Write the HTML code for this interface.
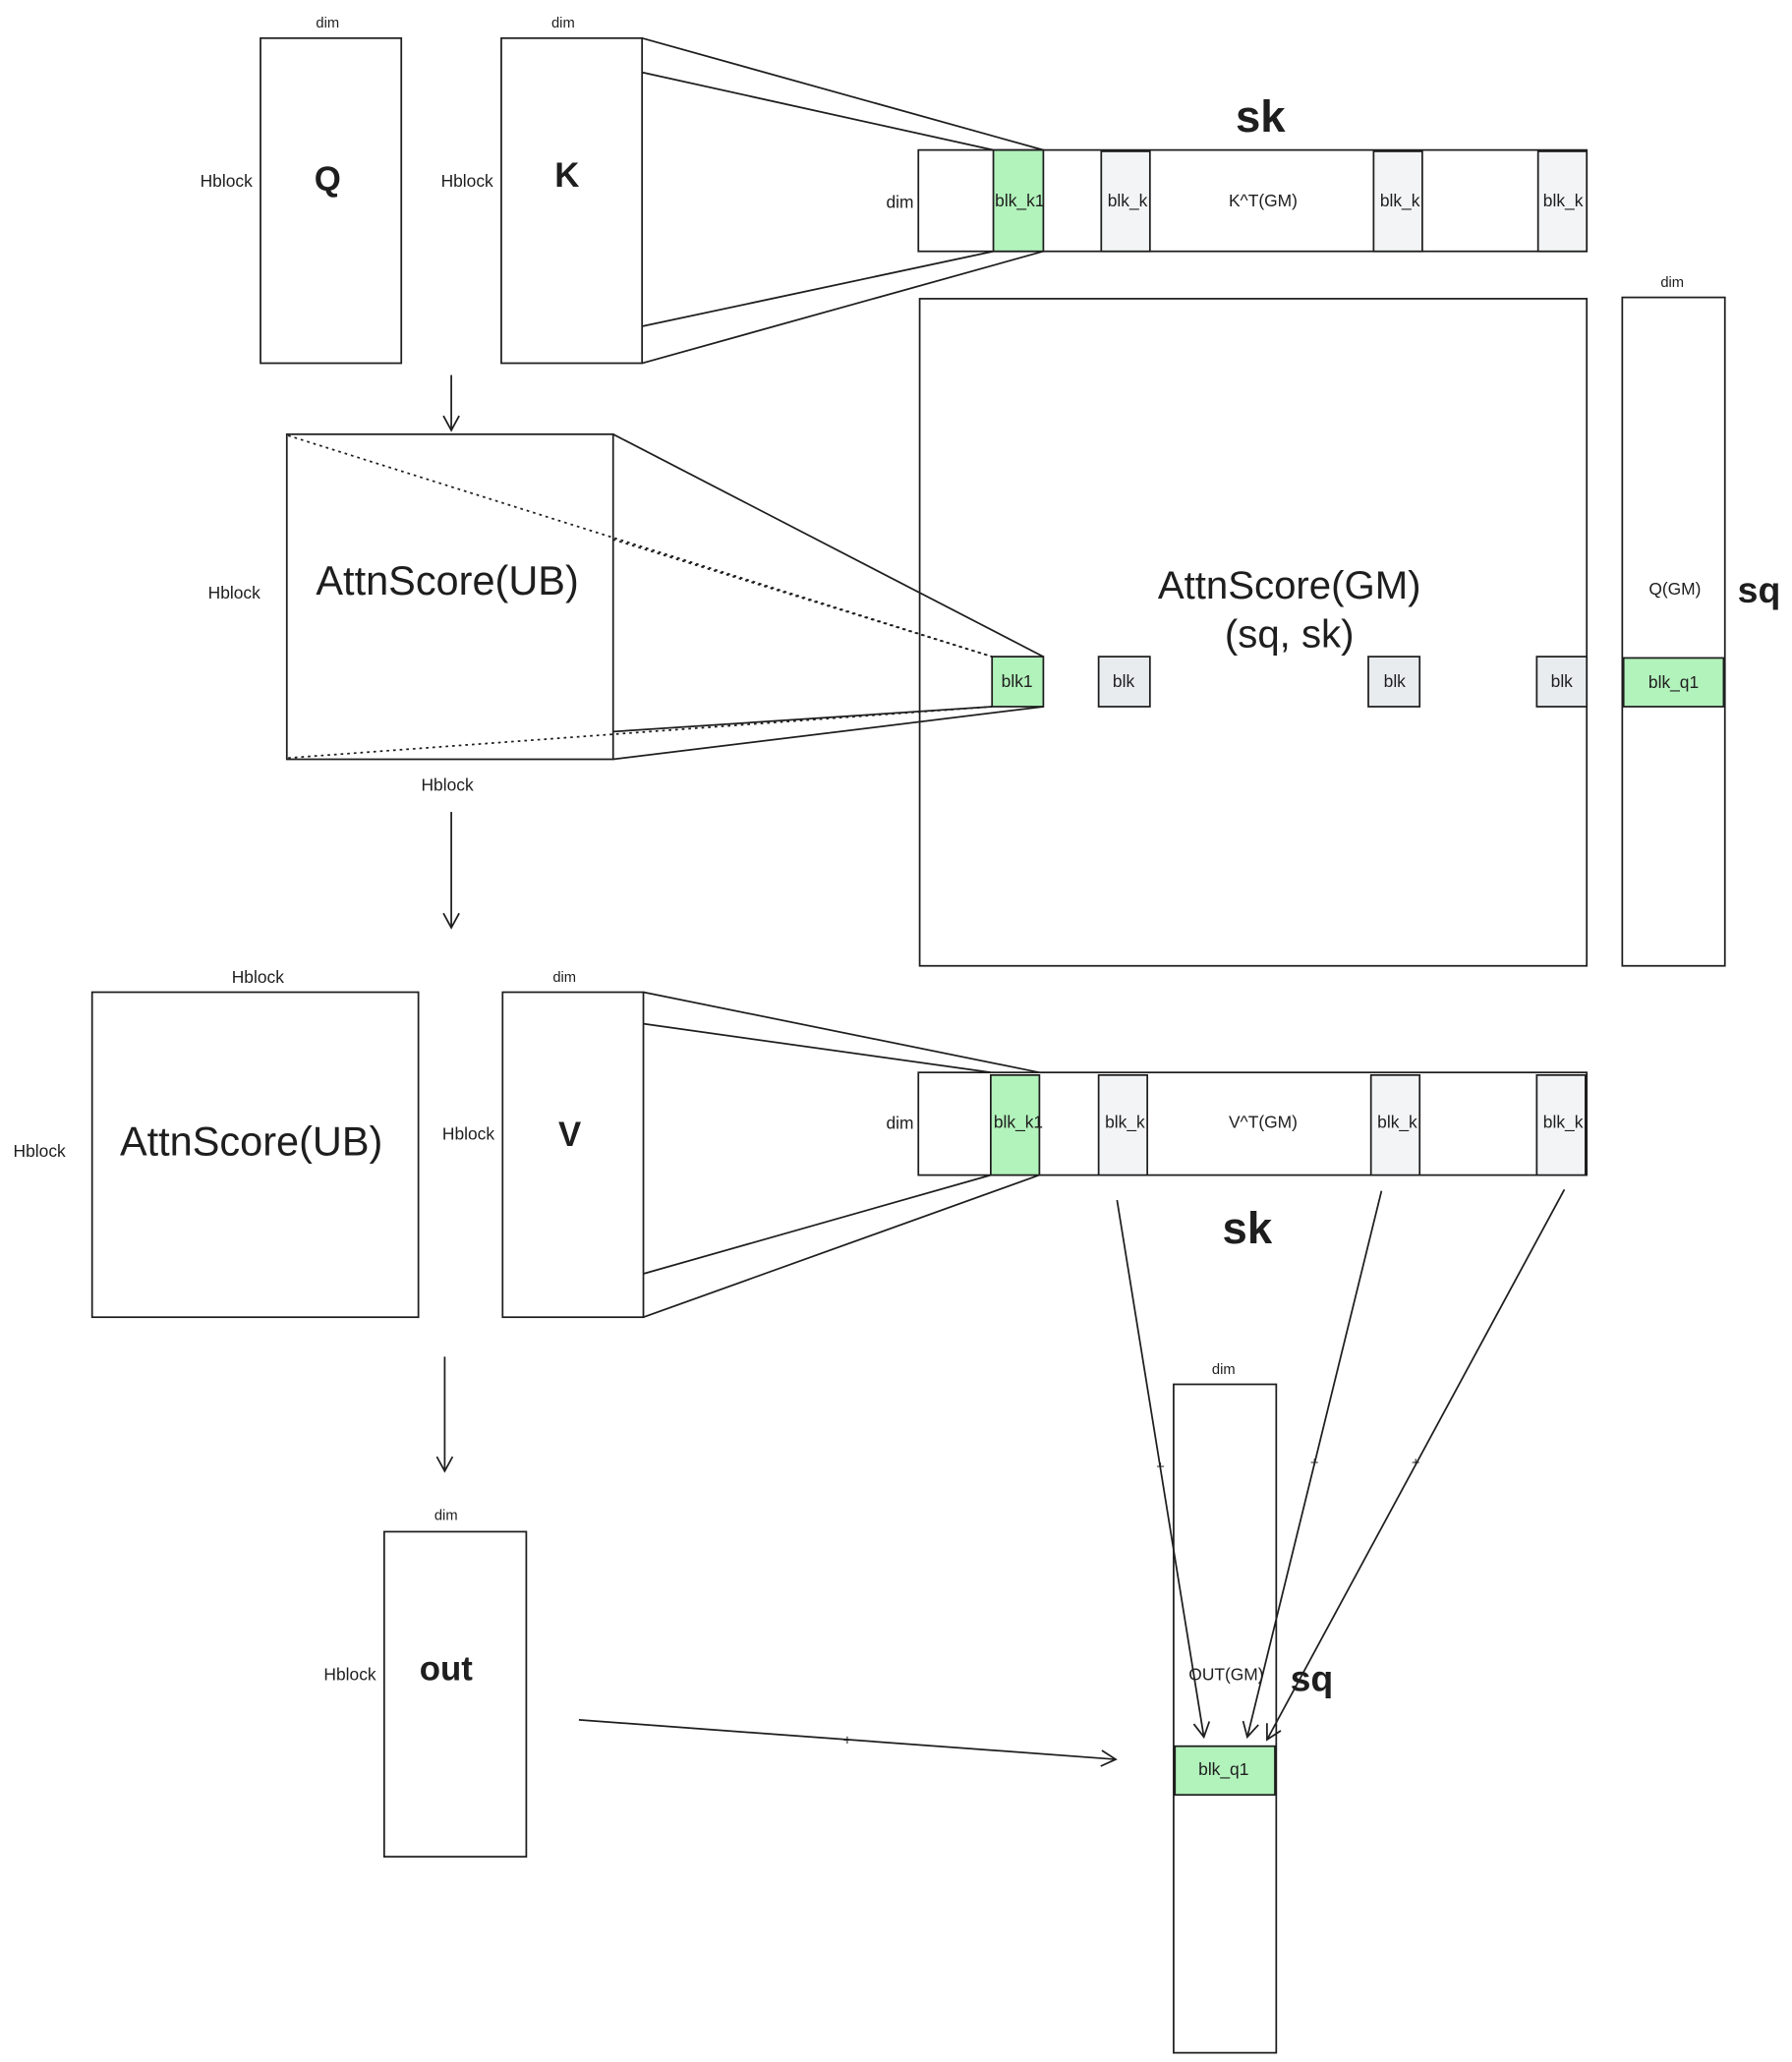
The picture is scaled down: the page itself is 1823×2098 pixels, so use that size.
<!DOCTYPE html>
<html><head><meta charset="utf-8"><style>
html,body{margin:0;padding:0;background:#fff;}
svg{display:block}
text{font-family:"Liberation Sans",sans-serif;fill:#1e1e1e}
</style></head><body>
<svg width="1823" height="2098" viewBox="0 0 1362 1567" preserveAspectRatio="none" xmlns="http://www.w3.org/2000/svg">
<defs>
<marker id="a" markerWidth="14" markerHeight="14" refX="12" refY="7" orient="auto" markerUnits="userSpaceOnUse">
<path d="M1,1 L12,7 L1,13" fill="none" stroke="#1e1e1e" stroke-width="1.3"/></marker>
</defs>
<g fill="none" stroke="#1e1e1e" stroke-width="1.3">
<rect x="198" y="29" width="107" height="247" fill="#fff"/>
<rect x="381" y="29" width="107" height="247" fill="#fff"/>
<line x1="488" y1="29" x2="793" y2="114"/><line x1="488" y1="55" x2="755" y2="114"/>
<line x1="488" y1="276" x2="793" y2="191"/><line x1="488" y1="248" x2="755" y2="191"/>
<rect x="698" y="114" width="508" height="77" fill="#fff"/>
<rect x="755" y="114" width="38" height="77" fill="#b2f2bb"/>
<rect x="837" y="115" width="37" height="76" fill="#f3f4f5"/>
<rect x="1044" y="115" width="37" height="76" fill="#f3f4f5"/>
<rect x="1169" y="115" width="37" height="76" fill="#f3f4f5"/>
<rect x="699" y="227" width="507" height="507"/>
<rect x="1233" y="226" width="78" height="508"/>
<rect x="1234" y="500" width="76" height="37" fill="#b2f2bb"/>
<rect x="754" y="499" width="39" height="38" fill="#b2f2bb"/>
<rect x="835" y="499" width="39" height="38" fill="#e9ecef"/>
<rect x="1040" y="499" width="39" height="38" fill="#e9ecef"/>
<rect x="1168" y="499" width="38" height="38" fill="#e9ecef"/>
<rect x="218" y="330" width="248" height="247"/>
<line x1="466" y1="330" x2="793" y2="499"/><line x1="466" y1="410" x2="754" y2="499" stroke-dasharray="2 3"/>
<line x1="219" y1="331" x2="754" y2="499" stroke-dasharray="2 3"/>
<line x1="466" y1="577" x2="793" y2="537"/><line x1="466" y1="556" x2="754" y2="537"/>
<line x1="219" y1="576" x2="754" y2="537" stroke-dasharray="2 3"/>
<line x1="343" y1="285" x2="343" y2="327" marker-end="url(#a)"/>
<line x1="343" y1="617" x2="343" y2="705" marker-end="url(#a)"/>
<rect x="70" y="754" width="248" height="247"/>
<rect x="382" y="754" width="107" height="247"/>
<line x1="489" y1="754" x2="790" y2="815"/><line x1="489" y1="778" x2="753" y2="815"/>
<line x1="489" y1="1001" x2="790" y2="893"/><line x1="489" y1="968" x2="753" y2="893"/>
<rect x="698" y="815" width="508" height="78" fill="#fff"/>
<rect x="753" y="817" width="37" height="76" fill="#b2f2bb"/>
<rect x="835" y="817" width="37" height="76" fill="#f3f4f5"/>
<rect x="1042" y="817" width="37" height="76" fill="#f3f4f5"/>
<rect x="1168" y="817" width="37" height="76" fill="#f3f4f5"/>
<line x1="338" y1="1031" x2="338" y2="1118" marker-end="url(#a)"/>
<rect x="292" y="1164" width="108" height="247"/>
<rect x="892" y="1052" width="78" height="508"/>
<rect x="893" y="1327" width="76" height="37" fill="#b2f2bb"/>
<line x1="849" y1="912" x2="915" y2="1320" marker-end="url(#a)"/>
<line x1="1050" y1="905" x2="948" y2="1320" marker-end="url(#a)"/>
<line x1="1189" y1="904" x2="963" y2="1322" marker-end="url(#a)"/>
<line x1="440" y1="1307" x2="848" y2="1337" marker-end="url(#a)"/>
</g>
<g font-size="13" text-anchor="middle">
<text x="249" y="21" font-size="11">dim</text><text x="428" y="21" font-size="11">dim</text>
<text x="172" y="142">Hblock</text><text x="355" y="142">Hblock</text>
<text x="249" y="145" font-size="26" font-weight="bold">Q</text>
<text x="431" y="142" font-size="26" font-weight="bold">K</text>
<text x="958" y="100" font-size="34" font-weight="bold">sk</text>
<text x="684" y="158">dim</text>
<text x="775" y="157">blk_k1</text><text x="857" y="157">blk_k</text>
<text x="960" y="157">K^T(GM)</text><text x="1064" y="157">blk_k</text><text x="1188" y="157">blk_k</text>
<text x="1271" y="218" font-size="11">dim</text>
<text x="1273" y="452">Q(GM)</text>
<text x="1337" y="458" font-size="28" font-weight="bold">sq</text>
<text x="1272" y="523">blk_q1</text>
<text x="980" y="455" font-size="30">AttnScore(GM)</text>
<text x="980" y="492" font-size="30">(sq, sk)</text>
<text x="773" y="522">blk1</text><text x="854" y="522">blk</text><text x="1060" y="522">blk</text><text x="1187" y="522">blk</text>
<text x="178" y="455">Hblock</text>
<text x="340" y="452" font-size="31">AttnScore(UB)</text>
<text x="340" y="601">Hblock</text>
<text x="196" y="747">Hblock</text><text x="429" y="746" font-size="11">dim</text>
<text x="30" y="879">Hblock</text><text x="356" y="866">Hblock</text>
<text x="191" y="878" font-size="31">AttnScore(UB)</text>
<text x="433" y="871" font-size="26" font-weight="bold">V</text>
<text x="684" y="858">dim</text>
<text x="774" y="857">blk_k1</text><text x="855" y="857">blk_k</text>
<text x="960" y="857">V^T(GM)</text><text x="1062" y="857">blk_k</text><text x="1188" y="857">blk_k</text>
<text x="948" y="945" font-size="34" font-weight="bold">sk</text>
<text x="930" y="1044" font-size="11">dim</text>
<text x="339" y="1155" font-size="11">dim</text>
<text x="266" y="1277">Hblock</text>
<text x="339" y="1277" font-size="26" font-weight="bold">out</text>
<text x="932" y="1277">OUT(GM)</text>
<text x="997" y="1285" font-size="28" font-weight="bold">sq</text>
<text x="930" y="1349">blk_q1</text>
<text x="882" y="1118" font-size="11">+</text><text x="999" y="1115" font-size="11">+</text><text x="1076" y="1115" font-size="11">+</text>
<text x="644" y="1326" font-size="11">+</text>
</g>
</svg>
</body></html>
